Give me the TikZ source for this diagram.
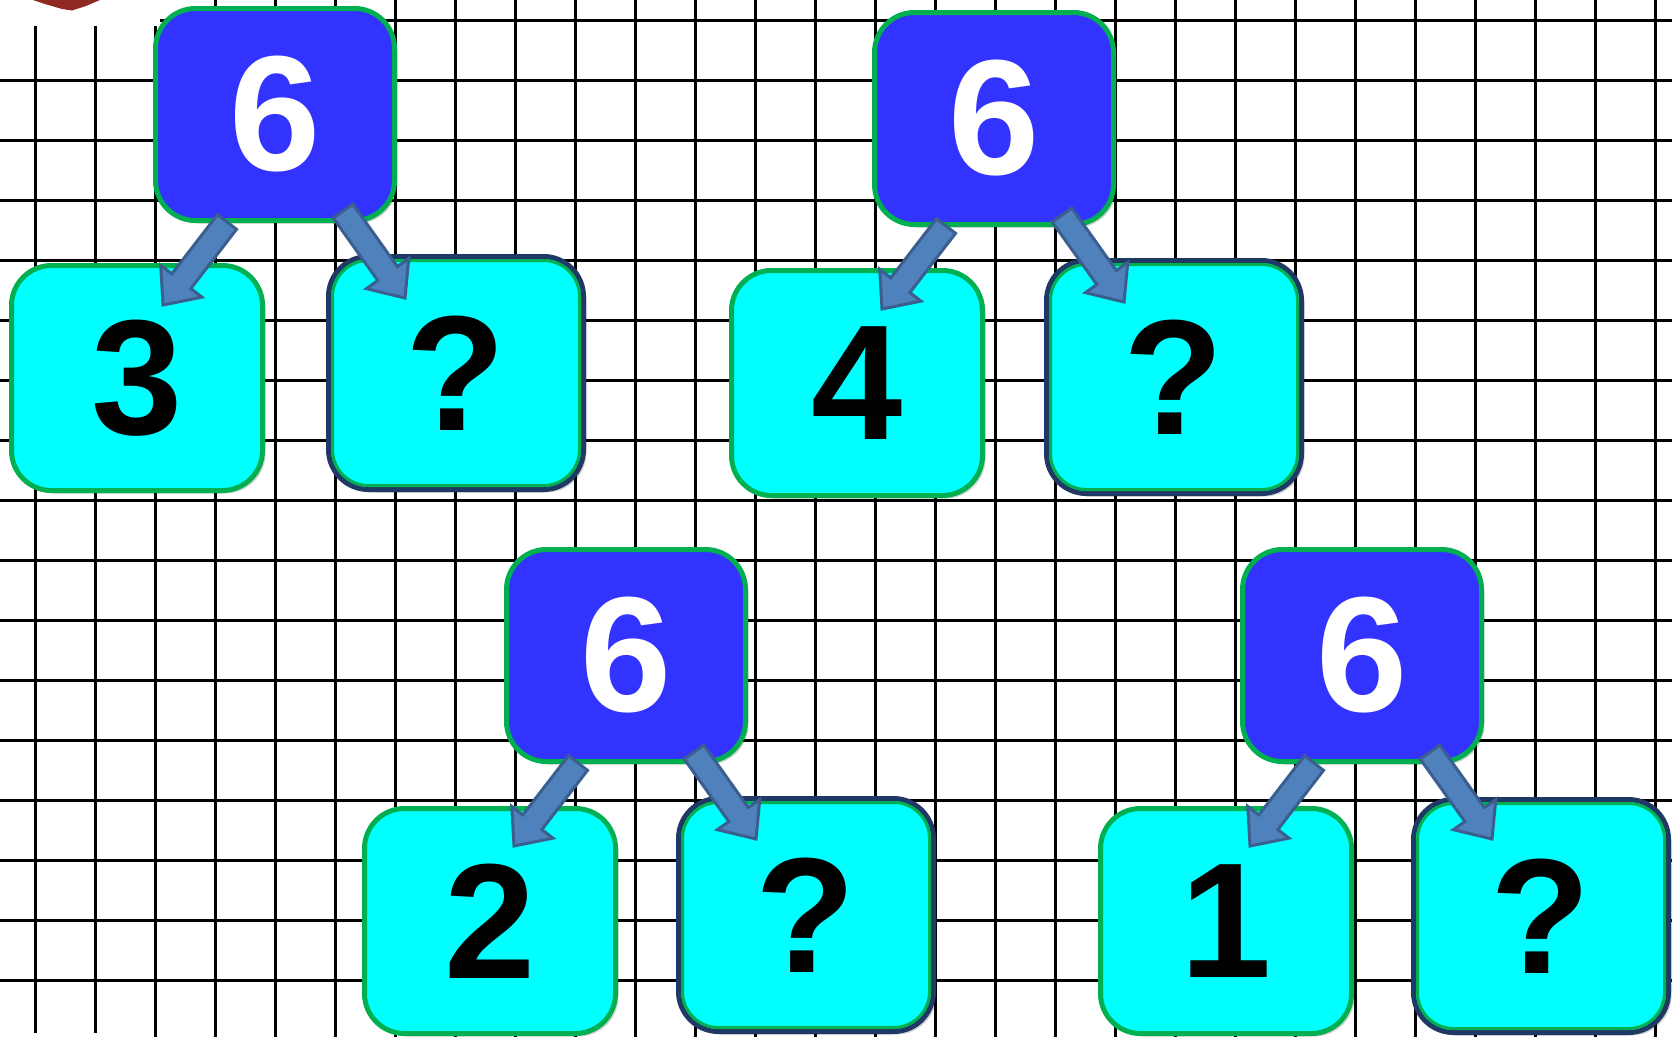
\documentclass[tikz,border=0pt]{standalone}
\usepackage{fontspec}
\setmainfont{Liberation Sans}
\usetikzlibrary{calc,shadows}
\definecolor{bfill}{HTML}{3333FF}
\definecolor{gline}{HTML}{00B050}
\definecolor{cfill}{HTML}{00FFFF}
\definecolor{nline}{HTML}{1F3864}
\definecolor{afill}{HTML}{4F81BD}
\definecolor{aline}{HTML}{3A5F8F}
\definecolor{blob}{HTML}{8E2A22}
\tikzset{
  gridline/.style={black, line width=3pt},
  base/.style={rounded corners=40pt, outer sep=0pt, inner sep=0pt,
    font=\bfseries\fontsize{164}{164}\selectfont,
    drop shadow={shadow xshift=3pt, shadow yshift=-3pt, opacity=.18, fill=black}},
  parent/.style={base, fill=bfill, draw=gline, line width=5pt,
    minimum width=239pt, minimum height=212pt, text=white},
  known/.style={base, fill=cfill, draw=gline, line width=5pt,
    minimum width=251pt, minimum height=225pt, text=black},
  unknown/.style={base, fill=cfill, draw=nline, line width=5pt,
    minimum width=255pt, minimum height=233pt, text=black},
  innerline/.style={draw=gline, line width=3pt, rounded corners=36pt},
  arrowsty/.style={fill=afill, draw=aline, line width=3pt, line join=miter},
}
\newcommand\blockarrow[2]{%
  \coordinate (hb) at ($(#2)!30pt!(#1)$);
  \filldraw[arrowsty]
    ($(#1)!12pt!90:(#2)$) --
    ($(hb)!12pt!-90:(#1)$) --
    ($(hb)!26pt!-90:(#1)$) --
    (#2) --
    ($(hb)!26pt!90:(#1)$) --
    ($(hb)!12pt!90:(#1)$) --
    ($(#1)!12pt!-90:(#2)$) -- cycle;
}
\newcommand\qinner[1]{%
  \draw[innerline] ($(#1.north west)+(4,4)$) rectangle ($(#1.south east)+(-4,-4)$);
}
\newcommand\grouparrows[4]{%
  % #1 parent, #2 left child, #3 right child, #4 prefix
  \coordinate (#4lt) at ($(#1.north west)+(71.5,213.5)$);
  \coordinate (#4lh) at ($(#1.north west)+(7.5,296.5)$);
  \coordinate (#4rt) at ($(#1.north west)+(187.5,202.5)$);
  \coordinate (#4rh) at ($(#1.north west)+(249.5,289.5)$);
  \blockarrow{#4lt}{#4lh}
  \blockarrow{#4rt}{#4rh}
}
\begin{document}
\begin{tikzpicture}[x=1pt, y=-1pt]
\useasboundingbox (0,0) rectangle (1672,1037);
\clip (0,0) rectangle (1672,1037);
\fill[white] (0,0) rectangle (1672,1037);
% grid
\foreach \i in {0,...,27} \draw[gridline] ({35+60*\i},0) -- ({35+60*\i},1037);
\foreach \j in {0,...,16} \draw[gridline] (0,{20+60*\j}) -- (1672,{20+60*\j});
% top-left picture remnant
\fill[white] (0,0) rectangle (160,26);
\fill[blob] (33,0) -- (45,4) -- (62,9) -- (72,10.5) -- (86,6) -- (100,0) -- cycle;
\fill[white] (0,1033) rectangle (100,1037);
% group 1
\node[parent]  (p1) at (275,114.5) {6};
\node[known]   (k1) at (137,378) {3};
\node[unknown] (q1) at (456,373) {?};
% group 2
\node[parent]  (p2) at (994,118.5) {6};
\node[known]   (k2) at (857,383) {4};
\node[unknown] (q2) at (1174,377) {?};
% group 3
\node[parent]  (p3) at (626,655.5) {6};
\node[known]   (k3) at (490,921) {2};
\node[unknown] (q3) at (806,915) {?};
% group 4
\node[parent]  (p4) at (1362,655.5) {6};
\node[known]   (k4) at (1226,921) {1};
\node[unknown] (q4) at (1541,916) {?};
\qinner{q1}\qinner{q2}\qinner{q3}\qinner{q4}
% arrows
\grouparrows{p1}{k1}{q1}{a}
\grouparrows{p2}{k2}{q2}{b}
\grouparrows{p3}{k3}{q3}{c}
\grouparrows{p4}{k4}{q4}{d}
\end{tikzpicture}
\end{document}
